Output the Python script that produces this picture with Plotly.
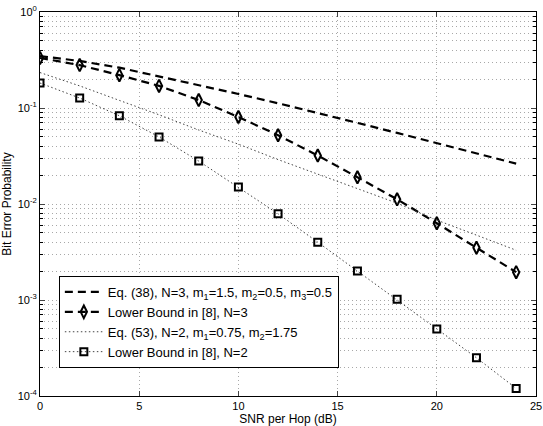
import plotly.graph_objects as go

snr = [0, 2, 4, 6, 8, 10, 12, 14, 16, 18, 20, 22, 24]

eq38_n3 = [0.347, 0.309, 0.263, 0.214, 0.174, 0.140, 0.112, 0.089, 0.070, 0.055, 0.0432, 0.0339, 0.0263]
lb_n3 = [0.332, 0.28, 0.22, 0.17, 0.121, 0.0806, 0.052, 0.032, 0.019, 0.0112, 0.0063, 0.0035, 0.00195]
eq53_n2 = [0.234, 0.170, 0.120, 0.085, 0.059, 0.042, 0.029, 0.0204, 0.0145, 0.0102, 0.0068, 0.0047, 0.0033]
lb_n2 = [0.182, 0.127, 0.083, 0.050, 0.028, 0.015, 0.0079, 0.0040, 0.0020, 0.00102, 0.00050, 0.00025, 0.00012]

names = [
    "Eq. (38), N=3, m<sub>1</sub>=1.5, m<sub>2</sub>=0.5, m<sub>3</sub>=0.5",
    "Lower Bound in [8], N=3",
    "Eq. (53), N=2, m<sub>1</sub>=0.75, m<sub>2</sub>=1.75",
    "Lower Bound in [8], N=2",
]

x_ticks = [0, 5, 10, 15, 20, 25]
y_ticks = [1e-4, 1e-3, 1e-2, 1e-1, 1e0]
y_ticktext = ["10<sup>-4</sup>", "10<sup>-3</sup>", "10<sup>-2</sup>", "10<sup>-1</sup>", "10<sup>0</sup>"]
y_minor = [m * 10.0 ** e for e in range(-4, 0) for m in range(2, 10)]

fig = go.Figure()
fig.add_trace(go.Scatter(x=snr, y=eq38_n3, mode="lines", name=names[0],
                         line=dict(color="black", width=2.2, dash="8px,5px")))
fig.add_trace(go.Scatter(x=snr, y=lb_n3, mode="lines+markers", name=names[1],
                         line=dict(color="black", width=2.2, dash="8px,5px"),
                         marker=dict(symbol="diamond-tall-open", size=9, color="black",
                                     line=dict(color="black", width=2))))
fig.add_trace(go.Scatter(x=snr, y=eq53_n2, mode="lines", name=names[2],
                         line=dict(color="#444444", width=1, dash="1.5px,2.5px")))
fig.add_trace(go.Scatter(x=snr, y=lb_n2, mode="lines+markers", name=names[3],
                         line=dict(color="#444444", width=1, dash="1.5px,2.5px"),
                         marker=dict(symbol="square-open", size=7, color="black",
                                     line=dict(color="black", width=2))))

fnt = "Liberation Sans, Arial, sans-serif"
gcol = "#a8a8a8"
gdash = "1px,3px"

fig.update_layout(
    width=543, height=426,
    margin=dict(l=40, r=7, t=12, b=30),
    paper_bgcolor="white", plot_bgcolor="white",
    font=dict(family=fnt, size=11, color="black"),
    showlegend=True,
    legend=dict(x=0.038, y=0.3125, xanchor="left", yanchor="top",
                bgcolor="white", bordercolor="black", borderwidth=1,
                font=dict(size=13, family=fnt), tracegroupgap=0, itemwidth=38),
    xaxis=dict(range=[0, 25], tickvals=x_ticks, ticks="inside", ticklen=5,
               showline=True, linecolor="black", linewidth=1, mirror="allticks",
               zeroline=False, automargin=False,
               title=dict(text="SNR per Hop (dB)", font=dict(size=12), standoff=2),
               tickfont=dict(size=11),
               showgrid=True, gridcolor=gcol, griddash=gdash, gridwidth=1),
    yaxis=dict(type="log", range=[-4, 0], tickvals=y_ticks, ticktext=y_ticktext,
               ticks="inside", ticklen=5,
               showline=True, linecolor="black", linewidth=1, mirror="allticks",
               zeroline=False, automargin=False,
               title=dict(text="Bit Error Probability", font=dict(size=12), standoff=4),
               tickfont=dict(size=11),
               minor=dict(tickvals=y_minor, ticks="inside", ticklen=3, tickcolor="black",
                          showgrid=True, gridcolor=gcol, griddash=gdash, gridwidth=1),
               showgrid=True, gridcolor=gcol, griddash=gdash, gridwidth=1),
)

fig.write_html("out.html")
